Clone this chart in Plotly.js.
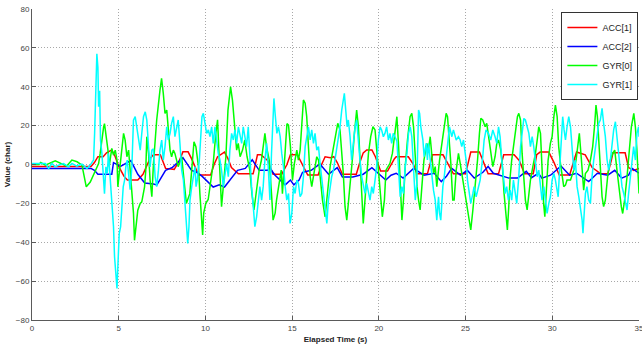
<!DOCTYPE html>
<html>
<head>
<meta charset="utf-8">
<script src="https://cdn.plot.ly/plotly-3.0.1.min.js"></script>
<style>html,body{margin:0;padding:0;background:#fff;}#chart{width:642px;height:350px;}</style>
</head>
<body>
<div id="chart"></div>
<script>
// ---- data ----
var seriesNames = ["ACC[1]", "ACC[2]", "GYR[0]", "GYR[1]"];
var xTicks = [0, 5, 10, 15, 20, 25, 30, 35];
var yTicks = [-80, -60, -40, -20, 0, 20, 40, 60, 80];

var acc1T = [0,3.4,3.6,3.8,4.1,4.3,4.6,4.8,5.0,5.3,
  5.5,6.1,6.4,6.6,6.8,7.0,7.4,7.7,8.2,8.5,
  8.7,9.0,9.2,9.5,9.6,10.3,10.5,10.7,11.1,11.3,
  11.5,11.9,12.75,12.9,13.0,13.2,13.6,13.9,14.4,14.7,
  14.9,15.3,15.7,15.9,16.5,16.7,16.9,17.2,17.4,17.6,
  17.9,18.7,18.9,19.1,19.3,19.6,19.8,20.1,20.5,20.7,
  20.9,21.0,21.7,22.0,22.2,22.8,23.0,23.1,23.7,24.0,
  24.3,25.0,25.2,25.3,25.8,26.0,26.3,26.9,27.1,27.2,
  27.8,28.1,28.4,28.9,29.0,29.1,29.3,29.8,30.1,30.4,
  31.0,31.2,31.4,31.9,32.3,32.8,33.2,33.4,33.5,34.2,
  34.4,34.7,35];
var acc1V = [-1,-1,1,4,4,6,7.5,4,-1,-6,
  -8,-8,-5,-1,3,5,5,-2,-2.5,2,
  6.5,6.5,3,-3.3,-5.4,-5.4,0,4,6.4,3,
  -1.6,-4.8,-4.8,1,5,5,2,-5,-5,0,
  5,5,-1.6,-5.4,-5.4,0,4,3.5,4,1,
  -5,-5,1,6,7.5,7.5,4,-3.4,-3.4,0,
  3,4,4,0,-4.8,-4.8,1,5,5,0,
  -4.8,-4.8,2,6.4,6.4,2,-4.8,-4.8,1,5,
  5,2,-4.8,-4.8,0,5,6.4,6.4,1,-5.4,
  -5.4,1,6.4,5,-1.6,-4.8,-4.8,2,6,6,
  -1.6,-3,-2];

var acc2T = [0,3.4,3.6,3.8,4.6,4.7,5.1,5.5,5.7,6.1,
  6.5,7.0,7.2,7.7,8.1,8.7,9.2,9.5,9.8,10.45,
  10.8,11.1,11.4,11.85,12.3,12.7,13.1,13.6,13.7,14.0,
  14.6,14.9,15.1,15.4,15.6,16.1,16.6,17.1,17.6,17.9,
  18.5,19.1,19.6,20.0,20.4,20.7,21.0,21.4,22.0,22.6,
  23.2,23.6,23.9,24.2,24.7,25.1,25.5,26.0,26.3,26.6,
  27.2,27.5,28.0,28.2,28.5,28.8,29.2,29.4,29.9,30.5,
  31.0,31.4,32.1,32.6,33.2,33.6,34.0,34.4,34.6,35];
var acc2V = [-2,-2,-3,-5,-5,1,-1,1.3,2,-5,
  -9.5,-10,-10.5,-3,-1.5,3.5,-3,-4,-6,-11.6,
  -10.5,-11.6,-8,-3,-2,2.4,-3,-3,-1.6,-5.4,
  -10.5,-8,-10.5,-8,-4,-3,0.3,-5,-1.6,-6.4,
  -6.4,-5,-1.6,-5,-8,-5.5,-4.5,-7,-2,-5.5,
  -4.5,-8.8,-6,-2,-5.5,-3,-7,-4,-1,-4.5,
  -6,-7,-7,-5.7,-3.5,-6.8,-4.5,-7,-5.5,-0.8,
  -5.5,-4.5,-8.8,-4.5,-5.5,-3,-7,-5.5,-2,-4.5];

var gyr0T = [0,0.4,0.5,0.77,1.34,1.73,2.0,2.3,2.6,2.88,
  3.01,3.13,3.36,3.55,3.74,3.84,3.93,4.03,4.13,4.18,
  4.26,4.38,4.45,4.53,4.6,4.7,4.8,4.9,4.95,5.03,
  5.14,5.28,5.37,5.47,5.57,5.66,5.76,5.85,5.91,5.99,
  6.1,6.24,6.33,6.49,6.56,6.62,6.72,6.81,6.91,7.0,
  7.1,7.19,7.38,7.47,7.57,7.67,7.77,7.86,7.96,8.05,
  8.15,8.24,8.43,8.63,8.82,8.9,9.1,9.26,9.34,9.45,
  9.6,9.68,9.78,9.84,9.9,10.02,10.16,10.26,10.45,10.6,
  10.7,10.8,10.93,11.03,11.18,11.3,11.45,11.56,11.7,11.8,
  11.89,12.0,12.14,12.27,12.4,12.56,12.68,12.8,12.95,13.1,
  13.23,13.33,13.43,13.52,13.68,13.81,13.9,14.02,14.1,14.25,
  14.37,14.44,14.56,14.7,14.79,14.9,15.02,15.13,15.27,15.36,
  15.46,15.55,15.65,15.75,15.84,15.94,16.04,16.13,16.28,16.42,
  16.52,16.61,16.75,16.9,17.0,17.09,17.19,17.32,17.47,17.63,
  17.76,17.86,17.95,18.05,18.15,18.24,18.34,18.47,18.59,18.72,
  18.82,18.93,19.05,19.1,19.2,19.3,19.4,19.53,19.66,19.78,
  19.87,19.97,20.12,20.2,20.32,20.41,20.55,20.64,20.78,20.9,
  21.04,21.14,21.23,21.33,21.42,21.52,21.65,21.8,21.9,22.0,
  22.1,22.2,22.29,22.38,22.48,22.6,22.77,22.86,22.96,23.06,
  23.15,23.25,23.34,23.5,23.63,23.77,23.88,23.96,24.05,24.15,
  24.26,24.34,24.46,24.59,24.69,24.84,24.97,25.07,25.17,25.3,
  25.42,25.55,25.69,25.8,25.88,25.99,26.13,26.22,26.32,26.41,
  26.57,26.7,26.8,26.9,27.03,27.14,27.22,27.34,27.41,27.49,
  27.57,27.66,27.8,27.91,27.99,28.07,28.17,28.26,28.36,28.45,
  28.55,28.65,28.74,28.88,29.03,29.13,29.22,29.32,29.41,29.5,
  29.57,29.64,29.76,29.89,29.99,30.09,30.18,30.28,30.37,30.47,
  30.56,30.66,30.76,30.85,31.05,31.24,31.37,31.49,31.56,31.68,
  31.81,31.91,32.06,32.2,32.33,32.45,32.52,32.6,32.68,32.77,
  32.87,32.96,33.06,33.21,33.35,33.48,33.6,33.73,33.87,33.98,
  34.06,34.17,34.31,34.44,34.56,34.7,34.79,34.88,34.98,35.0];
var gyr0V = [0,0,1,-0.3,1.9,0.5,-0.8,2.3,1.4,-0.3,
  -6.3,-11.5,-9,-5.5,-2,0.5,5.7,14.3,19.4,21,
  16,7.4,-1,5.7,8.3,4.8,7.4,2.3,-11.5,-4.6,
  5.7,16,12.5,4,7.4,-4.6,-13,-25,-39,-32,
  -23.5,-20,-19.2,-11.5,-3,14.3,5.7,-8,-16.6,0,
  12,22.9,38.3,44.3,36.6,26.3,28,19.4,7.4,4,
  7.4,5.7,-1.1,4,-11.4,-20,-15,2.3,11.7,9.2,
  -1.1,-15,-28.6,-36.3,-25,-20,-18,-11.4,0.6,16,
  23,2.3,-21.7,-11.4,4,28,40,33,19.4,7.4,
  10.9,4,7.4,12.6,4,-2.9,-15,-23.4,-13,-2.9,
  2.3,10.9,16,9.2,2.3,-15,-28.6,-25,-18.3,-9.7,
  -2.9,-15,2.3,21,20.3,9.2,-8,0.6,7.4,2.3,
  7.4,23,33.2,31.5,24.6,9.2,-6.3,-11.4,-2.9,4,
  2.3,-6.3,-18.3,-26.9,-18.3,-11.4,-1.1,5.7,14.3,21.2,
  17.8,7.4,-4.6,-21.7,-28.6,-20,-11.4,2.3,16,28,
  19.4,2.3,-20,-30.3,-18.3,-4.6,5.7,14.3,19.4,17.8,
  9.2,-2.9,-18.3,-26.9,-18.3,-2.9,-1.1,0.6,5.7,16,
  24.6,9.2,-11.4,-28.6,-18.3,-1.1,12.6,24.6,26.3,19.4,
  4,-11.4,-18.3,-23.4,-11.4,2.3,10.9,7.4,14.3,2.3,
  -4.6,-1.1,-11.4,2.3,10.9,19.4,26.3,24.6,14.3,0.6,
  -18.3,-18.3,-2.9,5.7,0.6,-8,-16.6,-21.7,-28.6,-33.7,
  -23.4,-11.4,2.3,16,23.7,22.9,19.4,21.2,16,9.2,
  -1.1,4,10.9,12.6,7.4,-2.9,-14.9,-26.9,-33.7,-21.7,
  -6.3,2.3,12.6,19.4,24.6,26.3,22.9,5.7,-6.3,-18.3,
  -23.4,-14.9,-8,-1.1,5.7,12.6,19.4,16,-2.9,-20,
  -26.9,-14.9,2.3,10.9,14.3,24.6,30.6,24.6,9.2,0.6,
  -6.3,-11.4,-10.6,-8,-8,-2.9,2.3,12.6,16,2.3,
  -13.2,-4.6,-2.9,2.3,9.2,21.2,30.6,24.6,10.9,-2.9,
  -16.6,-21.7,-18.3,-4.6,2.3,5.7,7.4,-2.9,-14.9,-21.7,
  -25.2,-18.3,-6.3,9.2,19.4,26.3,19.4,7.4,-6.3,-14.9];

var gyr1T = [0,0.77,0.96,1.15,1.34,1.54,1.82,2.11,2.3,2.59,
  2.88,3.17,3.36,3.55,3.61,3.68,3.74,3.8,3.84,3.9,
  3.95,4.03,4.11,4.18,4.26,4.34,4.41,4.51,4.6,4.7,
  4.76,4.84,4.9,4.95,5.03,5.11,5.18,5.26,5.34,5.41,
  5.49,5.57,5.66,5.76,5.85,5.95,6.05,6.14,6.24,6.33,
  6.43,6.53,6.62,6.72,6.81,6.91,7.0,7.1,7.19,7.29,
  7.38,7.48,7.57,7.67,7.77,7.86,7.96,8.05,8.15,8.24,
  8.34,8.43,8.53,8.63,8.73,8.82,8.92,8.98,9.05,9.11,
  9.21,9.3,9.4,9.46,9.53,9.65,9.73,9.8,9.88,9.98,
  10.07,10.17,10.26,10.36,10.45,10.55,10.65,10.74,10.84,10.93,
  11.03,11.13,11.22,11.32,11.41,11.51,11.61,11.7,11.8,11.9,
  11.99,12.09,12.18,12.28,12.37,12.47,12.57,12.66,12.76,12.85,
  12.95,13.05,13.14,13.24,13.33,13.43,13.53,13.62,13.72,13.81,
  13.87,13.95,14.02,14.12,14.21,14.31,14.4,14.5,14.6,14.69,
  14.79,14.88,14.98,15.08,15.17,15.27,15.36,15.46,15.56,15.65,
  15.75,15.84,15.94,16.04,16.13,16.23,16.32,16.42,16.52,16.61,
  16.71,16.8,16.9,17.0,17.09,17.19,17.28,17.38,17.47,17.57,
  17.67,17.76,17.86,17.95,18.01,18.09,18.17,18.24,18.34,18.43,
  18.53,18.63,18.72,18.82,18.91,19.01,19.1,19.2,19.3,19.39,
  19.49,19.59,19.68,19.78,19.87,19.97,20.07,20.16,20.26,20.35,
  20.45,20.55,20.64,20.74,20.83,20.93,21.04,21.14,21.23,21.33,
  21.42,21.52,21.62,21.71,21.81,21.9,22.0,22.1,22.19,22.29,
  22.35,22.42,22.54,22.61,22.73,22.8,22.86,22.96,23.06,23.15,
  23.25,23.34,23.44,23.5,23.57,23.69,23.77,23.88,23.96,24.07,
  24.21,24.3,24.46,24.59,24.69,24.78,24.88,25.03,25.11,25.22,
  25.3,25.42,25.49,25.61,25.74,25.84,25.99,26.07,26.18,26.32,
  26.45,26.57,26.7,26.8,26.9,26.99,27.09,27.18,27.28,27.37,
  27.47,27.57,27.66,27.76,27.85,27.95,28.07,28.17,28.26,28.36,
  28.45,28.55,28.65,28.74,28.84,28.93,29.03,29.13,29.22,29.32,
  29.41,29.51,29.61,29.7,29.8,29.89,29.99,30.09,30.18,30.28,
  30.34,30.41,30.53,30.6,30.68,30.76,30.85,30.95,31.05,31.14,
  31.24,31.33,31.43,31.53,31.62,31.72,31.77,31.85,31.91,32.0,
  32.1,32.2,32.29,32.39,32.48,32.58,32.68,32.77,32.87,32.96,
  33.06,33.16,33.25,33.35,33.45,33.54,33.64,33.73,33.83,33.93,
  34.02,34.12,34.21,34.31,34.4,34.5,34.6,34.69,34.79,34.88,
  34.98,35.0];
var gyr1V = [0.5,0.5,-2,0.5,-1.2,-0.3,0.5,-1.2,0.5,-0.8,
  0.2,-2,-0.3,2.3,16,38,57,50,29.7,38,
  12.5,5.7,-8,-15,-1.2,-4.6,5.7,-8,-18.3,-32,
  -47.5,-56,-63.8,-52.6,-35.5,-32,-21.7,-11.5,-8,-1.2,
  2.3,-4.6,-13,-1.2,22.8,24.6,19.4,12.5,7.4,16,
  24.6,27.1,22.8,9.1,-1.2,7.4,8,-6.3,-11.4,-2.9,
  7.4,12.6,2.3,9.2,19.4,12.6,16,21.2,24.6,14.3,
  19.4,22.9,10.9,-2.9,-8,-18.3,-33.7,-40.6,-32,-18.3,
  -11.4,-6.3,-1.1,-11.4,-8,2.3,16,24.6,26.3,21.2,
  16,17.8,14.3,19.4,10.9,19.4,12.6,5.7,2.3,-2.9,
  -11.4,-4.6,0.6,-6.3,7.4,16,12.6,17.8,10.9,19.4,
  14.3,10.9,19.4,14.3,9.2,19.4,2.3,-11.4,-21.7,-32,
  -26.9,-16.6,-11.4,-18.3,-11.4,2.3,10.9,-1.1,-18.3,5.7,
  19.4,34,26,16,19.4,14.3,5.7,-1.1,-11.4,-18.3,
  -14.9,-30.3,-25.2,-11.4,-14.9,-8,-9.7,-16.6,-14.9,-6.3,
  9.2,14.3,19.4,12.6,17.8,10.9,16,7.4,9.2,0.6,
  -8,-14.9,-21.7,-30.3,-18.3,-11.4,-6.3,-2.9,2.3,9.2,
  14.3,19.4,28,33,36.6,28,19.4,22.9,14.3,2.3,
  12.6,19.4,22.9,10.9,2.3,-6.3,-11.4,-14.9,-9.7,-13.2,
  -18.3,-11.4,-14.9,-8,-1.1,12.6,19.4,17.8,14.3,16,
  19.4,12.6,16,10.9,16,14.3,12,-2.9,-16.6,-11.4,
  -14.9,-1.1,5.7,16,19.4,14.3,-6.3,-18.3,-9.7,28,
  26.3,19.4,12.6,4,10.9,2.3,10.9,2.3,-6.3,-13.2,
  -18.3,-28.6,-16.6,-25.2,-28.6,-11.4,-6.3,2.3,9.2,19.4,
  14.3,17.8,12.6,14.3,12.6,9.2,12.6,2.3,-8,-14.9,
  -20,-14.9,-11.4,-16.6,-11.4,-8,4,12.6,17.8,16,
  12.6,17.8,14.3,10.9,19.4,14.3,2.3,-8,-14.9,-11.4,
  -18.3,-13.2,-18.3,-8,-14.9,-20,-6,9.2,16,23.7,
  22.9,19.4,16,9.2,14.3,9.2,2.3,-6.3,-2.9,-11.4,
  -18.3,-11.4,-18.3,-25.2,-20,-16.6,-8,-4.6,-8,-14.9,
  -16.6,-4.6,10.9,24.6,17.8,12.6,19.4,24.6,19.4,5.7,
  -2.9,2.3,-11.4,-16.6,-21.7,-28.6,-35.4,-23.4,-14.9,-11.4,
  -18.3,-20,-6.3,2.3,9.2,14.3,21.2,22.9,28.9,21.2,
  14.3,2.3,-2.9,2.3,10.9,17.8,22,14.3,5.7,-4.6,
  -11.4,-14.9,-20,-23.4,-14.9,-6.3,2.3,9.2,2.3,16,
  19.4,14.3];

var seriesT = [acc1T, acc2T, gyr0T, gyr1T];
var seriesV = [acc1V, acc2V, gyr0V, gyr1V];
var seriesColors = ["#ff0000", "#0000ff", "#00ff00", "#00ffff"];

// ---- chart ----
var traces = seriesNames.map(function (name, i) {
  return {
    x: seriesT[i], y: seriesV[i], name: name,
    type: "scatter", mode: "lines",
    line: {color: seriesColors[i], width: 1.5}
  };
});

var fontFam = "Liberation Sans, Arial, sans-serif";
var axisCommon = {
  showgrid: true, gridcolor: "#a8a8a8", griddash: "1px,2px", gridwidth: 1,
  showline: true, linecolor: "#5a5a5a", linewidth: 1,
  ticks: "inside", ticklen: 4, tickcolor: "#5a5a5a", tickwidth: 1,
  tickfont: {family: fontFam, size: 8, color: "#444"},
  ticklabeloverflow: "allow",
  zeroline: false, automargin: false, fixedrange: true
};

var layout = {
  width: 642, height: 350,
  margin: {l: 32, r: 3, t: 9, b: 30},
  paper_bgcolor: "#ffffff", plot_bgcolor: "#ffffff",
  font: {family: fontFam, size: 8, color: "#222"},
  showlegend: true,
  legend: {
    x: 0.999, xanchor: "right", y: 0.99, yanchor: "top",
    bgcolor: "#ffffff", bordercolor: "#333333", borderwidth: 1,
    font: {family: fontFam, size: 9, color: "#222"},
    tracegroupgap: 0, itemwidth: 30
  },
  xaxis: Object.assign({}, axisCommon, {
    range: [0, 35], tickmode: "array", tickvals: xTicks,
    title: {text: "Elapsed Time (s)", font: {family: fontFam, size: 8, weight: "bold", color: "#222"}, standoff: 4}
  }),
  yaxis: Object.assign({}, axisCommon, {
    range: [-80, 80], tickmode: "array", tickvals: yTicks,
    title: {text: "Value (char)", font: {family: fontFam, size: 8, weight: "bold", color: "#222"}, standoff: 4}
  })
};

Plotly.newPlot("chart", traces, layout, {displayModeBar: false, staticPlot: true});
</script>
</body>
</html>
